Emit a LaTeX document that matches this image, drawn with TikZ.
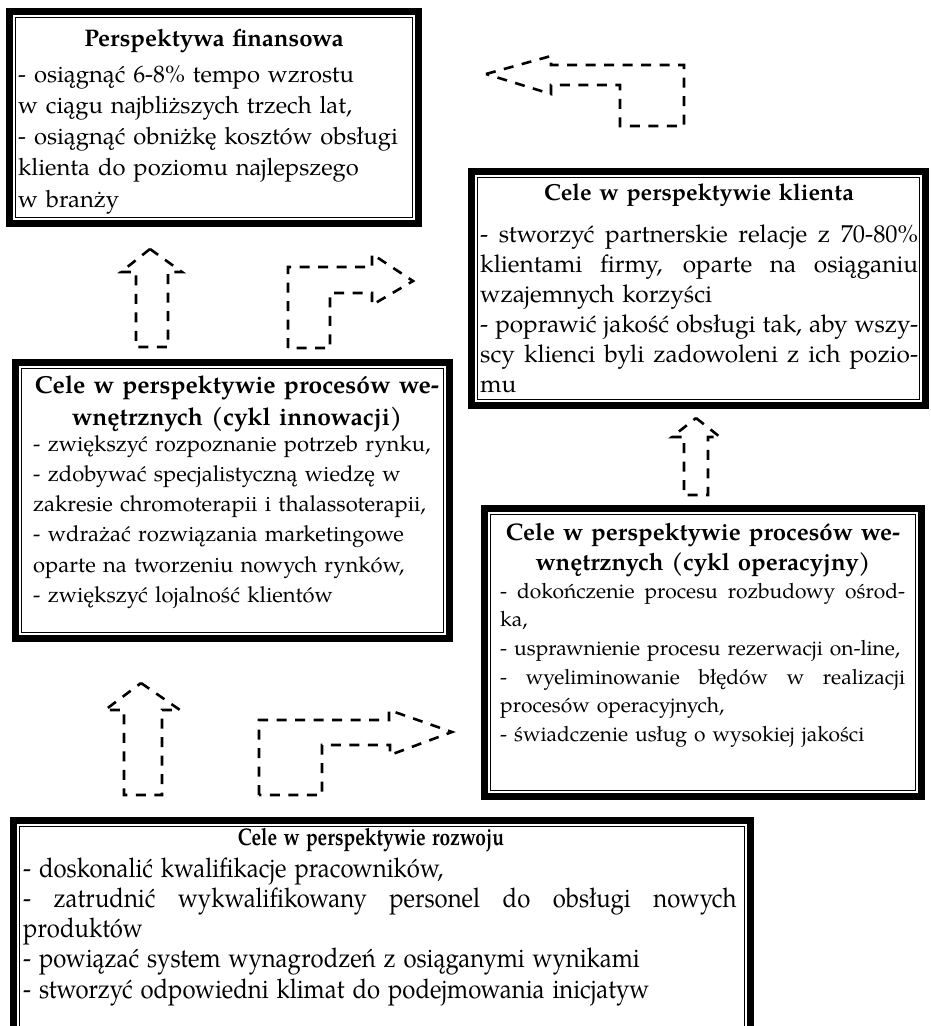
\documentclass[tikz,border=0pt]{standalone}
\usepackage{fontspec}
\setmainfont{TeX Gyre Pagella}
\newcommand\J[2]{{\spaceskip=0pt\xspaceskip=0pt\makebox[#1][s]{#2}}}
\newcommand\R{\rule{0pt}{22pt}}
\begin{document}
\begin{tikzpicture}[x=1pt,y=-1pt,
  outerframe/.style={draw=black, line width=7pt},
  innerframe/.style={draw=black, line width=1.3pt},
  body/.style={anchor=north west, inner sep=0pt, align=left},
  ttl/.style={anchor=north, inner sep=0pt, align=center},
  blockarrow/.style={draw=black, line width=2.6pt, dash pattern=on 10pt off 8.5pt, line join=miter}]
\useasboundingbox (0,0) rectangle (930,1026);
% frames
\draw[outerframe] (9.5,11.5) rectangle (418.5,223.5);
\draw[innerframe] (15.5,17.5) rectangle (412.5,217.5);
\draw[outerframe] (471.5,171.5) rectangle (925.5,405.5);
\draw[innerframe] (477.5,177.5) rectangle (919.5,399.5);
\draw[outerframe] (15.5,362.5) rectangle (449.5,638.5);
\draw[innerframe] (21.5,368.5) rectangle (443.5,632.5);
\draw[outerframe] (484.5,508.5) rectangle (921.5,796.5);
\draw[innerframe] (490.5,514.5) rectangle (915.5,790.5);
\draw[outerframe] (13.5,820.5) rectangle (750.5,1060);
\draw[innerframe] (19.5,826.5) rectangle (744.5,1054);
% box 1
\node[ttl, text width=390pt, font=\bfseries\fontsize{24}{31}\selectfont] (t1) at (214,24) {\R Perspektywa finansowa};
\node[body, text width=392pt, font=\fontsize{23.8}{31.25}\selectfont] (b1) at (18,60) {\R - osiągnąć 6-8\% tempo wzrostu\\
w ciągu najbliższych trzech lat,\\
- osiągnąć obniżkę kosztów obsługi\\
klienta do poziomu najlepszego\\
w branży};
% box 2
\node[ttl, text width=440pt, font=\bfseries\fontsize{23.2}{31}\selectfont] (t2) at (699,178) {\R Cele w perspektywie klienta};
\node[body, text width=438pt, font=\fontsize{24.4}{30}\selectfont] (b2) at (480,220) {\J{438pt}{\R - stworzyć partnerskie relacje z 70-80\%}\\
\J{438pt}{klientami firmy, oparte na osiąganiu}\\
wzajemnych korzyści\\
\J{438pt}{- poprawić jakość obsługi tak, aby wszy-}\\
\J{438pt}{scy klienci byli zadowoleni z ich pozio-}\\
mu};
% box 3
\node[ttl, text width=420pt, font=\bfseries\fontsize{24.6}{32}\selectfont] (t3) at (237,371) {\R Cele w perspektywie procesów we-\\ wnętrznych (cykl innowacji)};
\node[body, text width=408pt, font=\fontsize{22}{30.2}\selectfont] (b3) at (33,429) {\R - zwiększyć rozpoznanie potrzeb rynku,\\
- zdobywać specjalistyczną wiedzę w\\
zakresie chromoterapii i thalassoterapii,\\
- wdrażać rozwiązania marketingowe\\
oparte na tworzeniu nowych rynków,\\
- zwiększyć lojalność klientów};
% box 4
\node[ttl, text width=420pt, font=\bfseries\fontsize{24}{30}\selectfont] (t4) at (703,518) {\R Cele w perspektywie procesów we-\\ wnętrznych (cykl operacyjny)};
\node[body, text width=408pt, font=\fontsize{21}{28.6}\selectfont] (b4) at (500,576) {\J{405pt}{\R - dokończenie procesu rozbudowy ośrod-}\\
ka,\\
- usprawnienie procesu rezerwacji on-line,\\
\J{405pt}{- wyeliminowanie błędów w realizacji}\\
procesów operacyjnych,\\
- świadczenie usług o wysokiej jakości};
% box 5
\begin{scope}[shift={(371,823)}]
\node[ttl, text width=800pt, xscale=0.8, font=\bfseries\fontsize{24}{31}\selectfont] (t5) at (0,0) {\R Cele w perspektywie rozwoju};
\end{scope}
\begin{scope}[shift={(23,855)}]
\node[body, text width=806pt, xscale=0.885, font=\fontsize{27}{30.25}\selectfont] (b5) at (0,0) {\R - doskonalić kwalifikacje pracowników,\\
\J{806pt}{- zatrudnić wykwalifikowany personel do obsługi nowych}\\
produktów\\
- powiązać system wynagrodzeń z osiąganymi wynikami\\
- stworzyć odpowiedni klimat do podejmowania inicjatyw};
\end{scope}
% block arrows
\draw[blockarrow] (486,74) -- (551,56) -- (551,65) -- (684,65) -- (684,126) -- (620,126) -- (620,85) -- (551,85) -- (551,94) -- cycle;
\draw[blockarrow] (150,249) -- (182,272) -- (168,272) -- (168,347) -- (136,347) -- (136,272) -- (121,272) -- cycle;
\draw[blockarrow] (288,348) -- (288,267) -- (372,267) -- (372,254) -- (413,281) -- (372,305) -- (372,293) -- (330,293) -- (330,348) -- cycle;
\draw[blockarrow] (696,418) -- (720,437) -- (708,437) -- (708,495) -- (684,495) -- (684,437) -- (672,437) -- cycle;
\draw[blockarrow] (141,683) -- (180,710) -- (162,710) -- (162,795) -- (124,795) -- (124,710) -- (105,710) -- cycle;
\draw[blockarrow] (259,795) -- (259,720) -- (389,720) -- (389,710) -- (452,732) -- (390,755) -- (390,745) -- (322,745) -- (322,795) -- cycle;
\end{tikzpicture}
\end{document}
